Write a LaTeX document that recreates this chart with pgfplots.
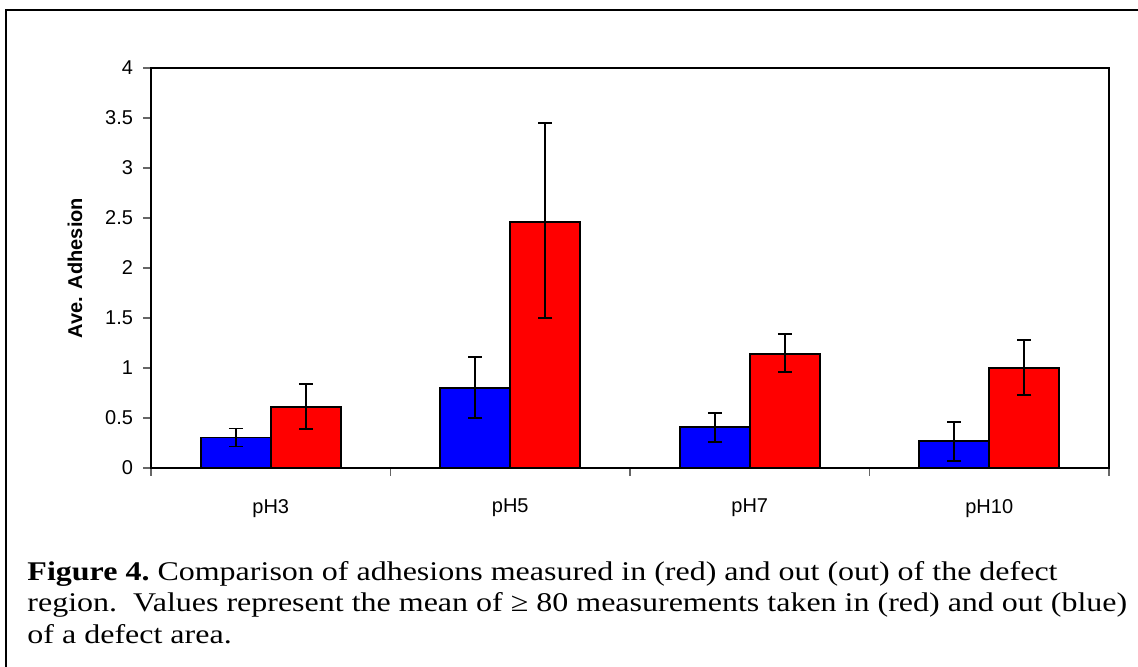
\documentclass[border=0pt]{standalone}
\usepackage{pgfplots}
\pgfplotsset{compat=1.18}
\usepackage{pgfplotstable}
\usepackage{fontspec}
\setmainfont{Liberation Serif}
\newfontfamily\arial{Liberation Sans}

\pgfplotstableread{
x y ep em
0 0.305 0.09 0.09
1 0.80 0.31 0.30
2 0.41 0.14 0.15
3 0.27 0.19 0.20
}\tblout
\pgfplotstableread{
x y ep em
0 0.61 0.23 0.22
1 2.46 0.99 0.96
2 1.14 0.20 0.18
3 1.00 0.28 0.27
}\tblin

\begin{document}
\begin{tikzpicture}
\useasboundingbox (0,0) rectangle (569pt,333.5pt);
\draw[line width=1pt] (3pt,-5pt) -- (3pt,328.5pt) -- (580pt,328.5pt);
\begin{axis}[
  at={(75.5pt,99.5pt)}, anchor=south west,
  scale only axis, width=479pt, height=200pt,
  xmin=-0.5, xmax=3.5, ymin=0, ymax=4,
  ybar=0pt, bar width=35pt,
  xtick={0,1,2,3}, xticklabels={pH3,pH5,pH7,pH10},
  minor xtick={-0.5,0.5,1.5,2.5,3.5},
  ytick={0,0.5,...,4},
  tick pos=left,
  tick align=outside,
  major x tick style={draw=none},
  minor tick length=4pt, major tick length=4pt,
  every tick/.style={gray!80!black, line width=0.6pt},
  axis line style={line width=0.8pt, black},
  /pgf/number format/assume math mode=true,
  ticklabel style={font=\arial\fontsize{10}{12}\selectfont},
  xticklabel style={yshift=-8pt},
  yticklabel style={xshift=-1.5pt},
  every axis y label/.style={at={(axis description cs:-0.0793,0.5)}, rotate=90, anchor=center},
  ylabel={\arial\bfseries\fontsize{10}{12}\selectfont Ave. Adhesion},
  error bars/error bar style={line width=0.8pt, black},
  error bars/error mark options={rotate=90, mark size=3.5pt, line width=0.8pt, black},
]
\addplot[fill={rgb,255:red,0;green,0;blue,255}, draw=black, line width=0.8pt,
  error bars/.cd, y dir=both, y explicit]
  table[x=x, y=y, y error plus=ep, y error minus=em] {\tblout};
\addplot[fill={rgb,255:red,255;green,0;blue,0}, draw=black, line width=0.8pt,
  error bars/.cd, y dir=both, y explicit]
  table[x=x, y=y, y error plus=ep, y error minus=em] {\tblin};
\end{axis}
\begin{scope}[every node/.style={anchor=base west, inner sep=0pt, xscale=1.185, font=\fontsize{13.5}{16}\selectfont}]
\node at (13.5pt,43pt) {\textbf{Figure 4.}\ Comparison of adhesions measured in (red) and out (out) of the defect};
\node at (13.5pt,27.5pt) {region.\ \ Values represent the mean of ≥ 80 measurements taken in (red) and out (blue)};
\node at (13.5pt,11.5pt) {of a defect area.};
\end{scope}
\end{tikzpicture}
\end{document}
